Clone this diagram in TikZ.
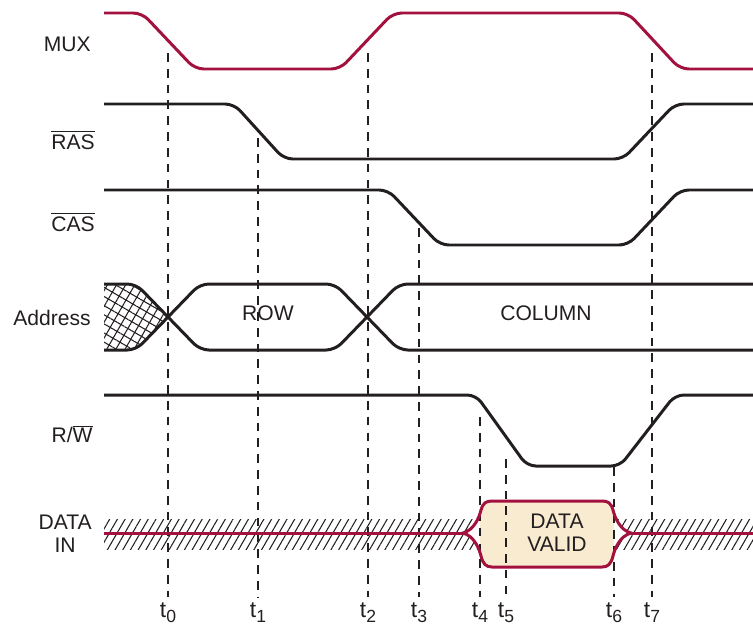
\documentclass[tikz,border=0pt]{standalone}
\usepackage{fontspec}
\setmainfont{Liberation Sans}
\usetikzlibrary{patterns.meta}
\definecolor{muxred}{RGB}{163,18,62}
\definecolor{sigblack}{RGB}{35,31,32}
\definecolor{validfill}{RGB}{248,235,207}
\newcommand{\tsub}[1]{t\raisebox{-0.45ex}{\fontsize{10}{10}\selectfont #1}}
\begin{document}
\begin{tikzpicture}[x=0.02cm,y=-0.02cm,
  signal/.style={line width=1.7pt,sigblack,rounded corners=5pt},
  muxsig/.style={signal,muxred},
  guide/.style={line width=0.7pt,sigblack,dash pattern=on 5pt off 4pt},
  lbl/.style={inner sep=0pt,text=sigblack,font=\fontsize{12}{13}\selectfont},
  sidelbl/.style={lbl,anchor=east},
  timelbl/.style={lbl,anchor=base,font=\fontsize{13}{13}\selectfont}]
  \useasboundingbox (0,0) rectangle (753,629);
  \fill[pattern={Lines[angle=60,distance=4.5pt,line width=0.6pt]},pattern color=sigblack]
    [rounded corners=5pt] (104,284) -- (136,284) -- (168,317) -- (136,350) [sharp corners] -- (104,350) -- cycle;
  \fill[pattern={Lines[angle=-30,distance=4.5pt,line width=0.6pt]},pattern color=sigblack]
    [rounded corners=5pt] (104,284) -- (136,284) -- (168,317) -- (136,350) [sharp corners] -- (104,350) -- cycle;
  \fill[pattern={Lines[angle=60,distance=3.8pt,line width=0.6pt]},pattern color=sigblack] (104,519) rectangle (753,549);
  \path[fill=white] (463,533) .. controls (474,530) and (479,518) .. (481,510) .. controls (483,503) and (486,501) .. (492,501)
    -- (602,501) .. controls (608,501) and (611,503) .. (613,510) .. controls (615,518) and (620,530) .. (631,533)
    .. controls (620,536) and (615,548) .. (613,556) .. controls (611,564) and (608,567) .. (602,567)
    -- (492,567) .. controls (486,567) and (483,564) .. (481,556) .. controls (479,548) and (474,536) .. cycle;
  \fill[validfill,rounded corners=5pt] (480,501) rectangle (614,567);
  \draw[guide] (168,53) -- (168,597);
  \draw[guide] (258,138) -- (258,597);
  \draw[guide] (368,53) -- (368,597);
  \draw[guide] (419,228) -- (419,597);
  \draw[guide] (480,417) -- (480,597);
  \draw[guide] (506,459) -- (506,597);
  \draw[guide] (614,467) -- (614,597);
  \draw[guide] (652,53) -- (652,597);
  \node[timelbl] (t0) at (168,617) {\tsub{0}};
  \node[timelbl] (t1) at (258,617) {\tsub{1}};
  \node[timelbl] (t2) at (368,617) {\tsub{2}};
  \node[timelbl] (t3) at (419,617) {\tsub{3}};
  \node[timelbl] (t4) at (480,617) {\tsub{4}};
  \node[timelbl] (t5) at (506,617) {\tsub{5}};
  \node[timelbl] (t6) at (614,617) {\tsub{6}};
  \node[timelbl] (t7) at (652,617) {\tsub{7}};
  \draw[muxsig] (104,13) -- (142,13) -- (195,69) -- (340,69) -- (393,13) -- (628,13) -- (680,69) -- (753,69);
  \draw[signal] (104,104) -- (234,104) -- (284,159) -- (623,159) -- (675,104) -- (753,104);
  \draw[signal] (104,190) -- (388,190) -- (440,245) -- (628,245) -- (680,190) -- (753,190);
  \draw[signal] (104,284) -- (136,284) -- (200,350) -- (335,350) -- (399,284) -- (753,284);
  \draw[signal] (104,350) -- (136,350) -- (200,284) -- (335,284) -- (399,350) -- (753,350);
  \draw[signal] (104,395) -- (476,395) -- (527,466) -- (620,466) -- (675,395) -- (753,395);
  \draw[muxsig] (104,533) -- (463,533);
  \draw[muxsig] (631,533) -- (753,533);
  \draw[muxsig,rounded corners=0pt] (463,533) .. controls (474,530) and (479,518) .. (481,510) .. controls (483,503) and (486,501) .. (492,501)
    -- (602,501) .. controls (608,501) and (611,503) .. (613,510) .. controls (615,518) and (620,530) .. (631,533)
    .. controls (620,536) and (615,548) .. (613,556) .. controls (611,564) and (608,567) .. (602,567)
    -- (492,567) .. controls (486,567) and (483,564) .. (481,556) .. controls (479,548) and (474,536) .. cycle;
  \node[sidelbl] (mux) at (91,44) {MUX};
  \node[sidelbl] (ras) at (95,140) {$\overline{\mbox{RAS}}$};
  \node[sidelbl] (cas) at (95,222) {$\overline{\mbox{CAS}}$};
  \node[sidelbl] (addr) at (91,318) {Address};
  \node[sidelbl] (rw) at (93,434) {R/$\overline{\mbox{W}}$};
  \node[sidelbl,align=center] (din) at (92,534) {DATA\\IN};
  \node[lbl] (row) at (268,313) {ROW};
  \node[lbl] (col) at (546,313) {COLUMN};
  \node[lbl,align=center] (valid) at (557,533) {DATA\\VALID};
\end{tikzpicture}
\end{document}
